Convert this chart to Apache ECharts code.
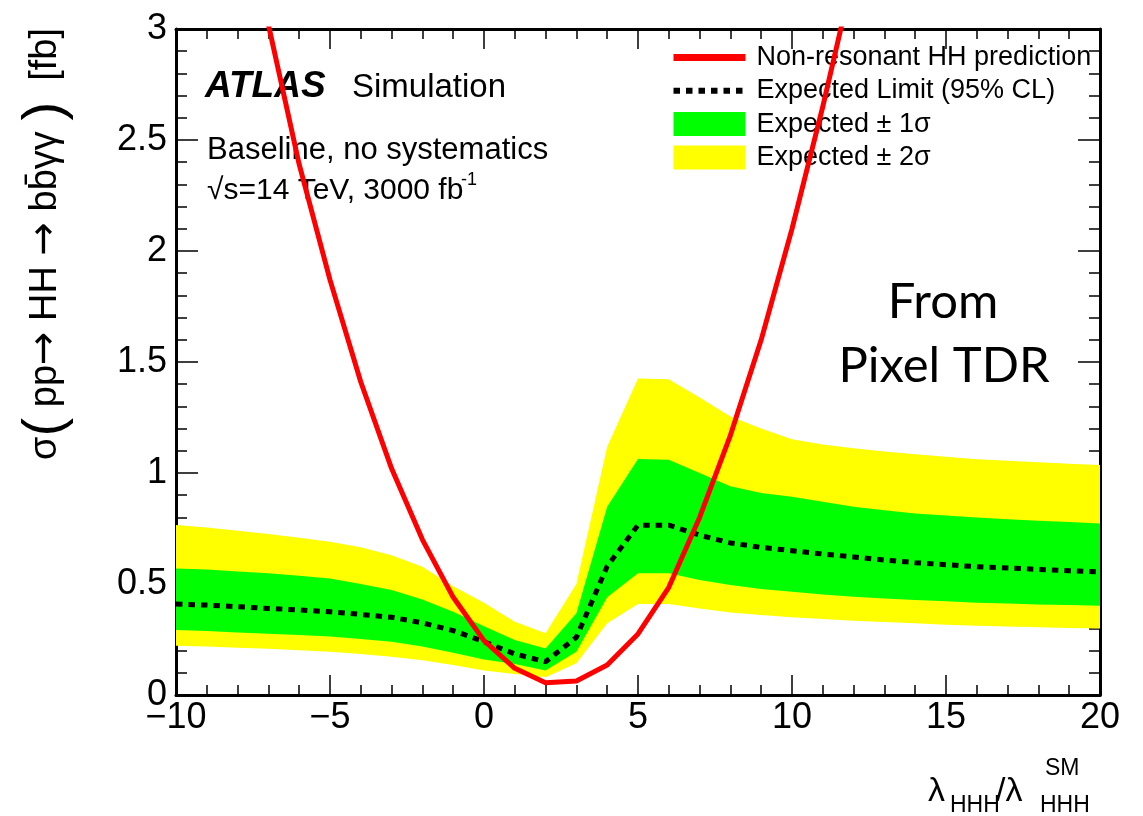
<!DOCTYPE html>
<html><head><meta charset="utf-8">
<script src="https://cdn.jsdelivr.net/npm/echarts@6/dist/echarts.min.js"></script>
<style>html,body{margin:0;padding:0;background:#fff}#c{width:1143px;height:816px}</style>
</head><body><div id="c"></div>
<script>
// ---- data ----
const lambdaVals = [-10,-9,-8,-7,-6,-5,-4,-3,-2,-1,0,1,2,3,4,5,6,7,8,9,10,11,12,13,14,15,16,17,18,19,20];
const expMedian = [0.41,0.405,0.398,0.39,0.383,0.375,0.363,0.35,0.325,0.29,0.24,0.185,0.15,0.26,0.58,0.765,0.765,0.72,0.685,0.665,0.65,0.635,0.622,0.608,0.596,0.587,0.578,0.572,0.566,0.56,0.555];
const sigma1Hi = [0.57,0.565,0.556,0.548,0.537,0.525,0.5,0.473,0.43,0.375,0.31,0.248,0.209,0.368,0.848,1.063,1.06,1.0,0.94,0.91,0.893,0.87,0.848,0.832,0.818,0.808,0.8,0.792,0.785,0.779,0.773];
const sigma1Lo = [0.293,0.288,0.282,0.276,0.27,0.263,0.252,0.24,0.218,0.19,0.16,0.14,0.11,0.195,0.44,0.548,0.548,0.518,0.495,0.478,0.465,0.453,0.443,0.435,0.428,0.422,0.416,0.412,0.408,0.405,0.402];
const sigma2Hi = [0.766,0.755,0.74,0.725,0.708,0.69,0.665,0.63,0.578,0.49,0.415,0.33,0.278,0.5,1.118,1.426,1.422,1.34,1.255,1.2,1.152,1.128,1.111,1.097,1.085,1.073,1.062,1.055,1.048,1.042,1.036];
const sigma2Lo = [0.222,0.218,0.213,0.208,0.202,0.195,0.185,0.172,0.157,0.135,0.11,0.095,0.08,0.143,0.323,0.41,0.41,0.39,0.372,0.36,0.35,0.342,0.335,0.329,0.323,0.317,0.312,0.308,0.305,0.302,0.3];
const predLambda = [-8,-7,-6,-5,-4,-3,-2,-1,0,1,2,3,4,5,6,7,8,9,10,11,12];
const predSigma = [3.65,3.02,2.39,1.87,1.41,1.02,0.7,0.44,0.245,0.12,0.055,0.063,0.135,0.275,0.485,0.8,1.17,1.6,2.1,2.65,3.25];
const xTicks = {min:-10, max:20, interval:5};
const yTicks = {min:0, max:3, interval:0.5};

const FONT = 'Liberation Sans';
const chart = echarts.init(document.getElementById('c'), null, {renderer:'canvas'});

function bandRender(lo, hi, color) {
  return function (params, api) {
    if (params.dataIndex !== 0) return null;
    const pts = [];
    for (let i = 0; i < lambdaVals.length; i++) pts.push(api.coord([lambdaVals[i], hi[i]]));
    for (let i = lambdaVals.length - 1; i >= 0; i--) pts.push(api.coord([lambdaVals[i], lo[i]]));
    return {type:'polygon', shape:{points:pts}, style:{fill:color}};
  };
}

function xAxisDef(pos, showLabel) {
  return {
    type:'value', position:pos, min:xTicks.min, max:xTicks.max, interval:xTicks.interval,
    axisLine:{show:true, onZero:false, lineStyle:{color:'#000', width:3}},
    axisTick:{show:true, inside:true, length:20, lineStyle:{color:'#000', width:1.5}},
    minorTick:{show:true, splitNumber:5, length:10, lineStyle:{color:'#000', width:1.5}},
    splitLine:{show:false}, minorSplitLine:{show:false},
    axisLabel:{show:showLabel, fontSize:36, fontFamily:FONT, color:'#000', margin:5,
      formatter: v => v < 0 ? '\u2212' + Math.abs(v) : String(v)}
  };
}
function yAxisDef(pos, showLabel) {
  return {
    type:'value', position:pos, min:yTicks.min, max:yTicks.max, interval:yTicks.interval,
    axisLine:{show:true, onZero:false, lineStyle:{color:'#000', width:3}},
    axisTick:{show:true, inside:true, length:22, lineStyle:{color:'#000', width:1.5}},
    minorTick:{show:true, splitNumber:5, length:11, lineStyle:{color:'#000', width:1.5}},
    splitLine:{show:false}, minorSplitLine:{show:false},
    axisLabel:{show:showLabel, fontSize:36, fontFamily:FONT, color:'#000', margin:9,
      formatter: v => String(v)}
  };
}

const option = {
  animation:false,
  backgroundColor:'#fff',
  grid:{left:176, right:43, top:29, bottom:121, containLabel:false},
  xAxis:[xAxisDef('bottom', true), xAxisDef('top', false)],
  yAxis:[yAxisDef('left', true), yAxisDef('right', false)],
  legend:{
    orient:'vertical', left:670, top:44, padding:0, itemWidth:72, itemHeight:24, itemGap:6.3,
    selectedMode:false,
    textStyle:{fontSize:27, fontFamily:FONT, color:'#000', lineHeight:24, padding:[0,0,0,6]},
    data:[
      {name:'Non-resonant HH prediction', itemStyle:{opacity:0}, lineStyle:{width:7}},
      {name:'Expected Limit (95% CL)', itemStyle:{opacity:0}, lineStyle:{width:6}},
      {name:'Expected \u00b1 1\u03c3', icon:'rect'},
      {name:'Expected \u00b1 2\u03c3', icon:'rect'}
    ]
  },
  series:[
    {name:'Expected \u00b1 2\u03c3', type:'custom', xAxisIndex:0, yAxisIndex:0,
     itemStyle:{color:'#ffff00'}, renderItem:bandRender(sigma2Lo, sigma2Hi, '#ffff00'),
     data:lambdaVals.map((x,i)=>[x, sigma2Lo[i], sigma2Hi[i]]), encode:{x:0, y:[1,2]}, z:1},
    {name:'Expected \u00b1 1\u03c3', type:'custom', xAxisIndex:0, yAxisIndex:0,
     itemStyle:{color:'#00ff00'}, renderItem:bandRender(sigma1Lo, sigma1Hi, '#00ff00'),
     data:lambdaVals.map((x,i)=>[x, sigma1Lo[i], sigma1Hi[i]]), encode:{x:0, y:[1,2]}, z:2},
    {name:'Expected Limit (95% CL)', type:'line', xAxisIndex:0, yAxisIndex:0,
     data:lambdaVals.map((x,i)=>[x, expMedian[i]]), symbol:'none', clip:true,
     itemStyle:{color:'#000'},
     lineStyle:{color:'#000', width:5, type:[6.5,6], cap:'butt'}, z:3},
    {name:'Non-resonant HH prediction', type:'line', xAxisIndex:0, yAxisIndex:0,
     data:predLambda.map((x,i)=>[x, predSigma[i]]), symbol:'none', clip:true,
     itemStyle:{color:'#ff0000'},
     lineStyle:{color:'#ff0000', width:5, join:'round'}, z:4}
  ],
  graphic:[
    {type:'text', x:205, y:87, style:{text:'ATLAS', font:'italic bold 37px "Liberation Sans"', fill:'#000', verticalAlign:'middle'}},
    {type:'text', x:352, y:88, style:{text:'Simulation', font:'33px "Liberation Sans"', fill:'#000', verticalAlign:'middle'}},
    {type:'text', x:207, y:150, style:{text:'Baseline, no systematics', font:'31px "Liberation Sans"', fill:'#000', verticalAlign:'middle'}},
    {type:'text', x:207, y:191, style:{text:'\u221as=14 TeV, 3000 fb', font:'30px "Liberation Sans"', fill:'#000', verticalAlign:'middle'}},
    {type:'text', x:461, y:180, style:{text:'-1', font:'18px "Liberation Sans"', fill:'#000', verticalAlign:'middle'}},
    {type:'text', x:943, y:302, style:{text:'From', font:'49px Lato', fill:'#000', align:'center', verticalAlign:'middle'}},
    {type:'text', x:944, y:366, style:{text:'Pixel TDR', font:'49px Lato', fill:'#000', align:'center', verticalAlign:'middle'}},
    {type:'text', x:46, y:28, rotation:Math.PI/2, style:{
      text:'\u03c3{p|(} pp{a|\u2192} HH {a|\u2192} bb\u0304\u03b3\u03b3 {p|)}  [fb]',
      font:'38px "Liberation Sans"', fill:'#000', align:'right', verticalAlign:'middle',
      rich:{p:{fontSize:56, fontFamily:FONT, fill:'#000'},
            a:{fontSize:40, fontFamily:'DejaVu Sans', fill:'#000'}}}},
    {type:'text', x:928, y:792, style:{text:'\u03bb', font:'34px "Liberation Sans"', fill:'#000', verticalAlign:'middle'}},
    {type:'text', x:950, y:806, style:{text:'HHH', font:'23px "Liberation Sans"', fill:'#000', verticalAlign:'middle'}},
    {type:'text', x:996, y:792, style:{text:'/\u03bb', font:'34px "Liberation Sans"', fill:'#000', verticalAlign:'middle'}},
    {type:'text', x:1040, y:806, style:{text:'HHH', font:'23px "Liberation Sans"', fill:'#000', verticalAlign:'middle'}},
    {type:'text', x:1045, y:769, style:{text:'SM', font:'23px "Liberation Sans"', fill:'#000', verticalAlign:'middle'}}
  ]
};
chart.setOption(option);
</script>
</body></html>
